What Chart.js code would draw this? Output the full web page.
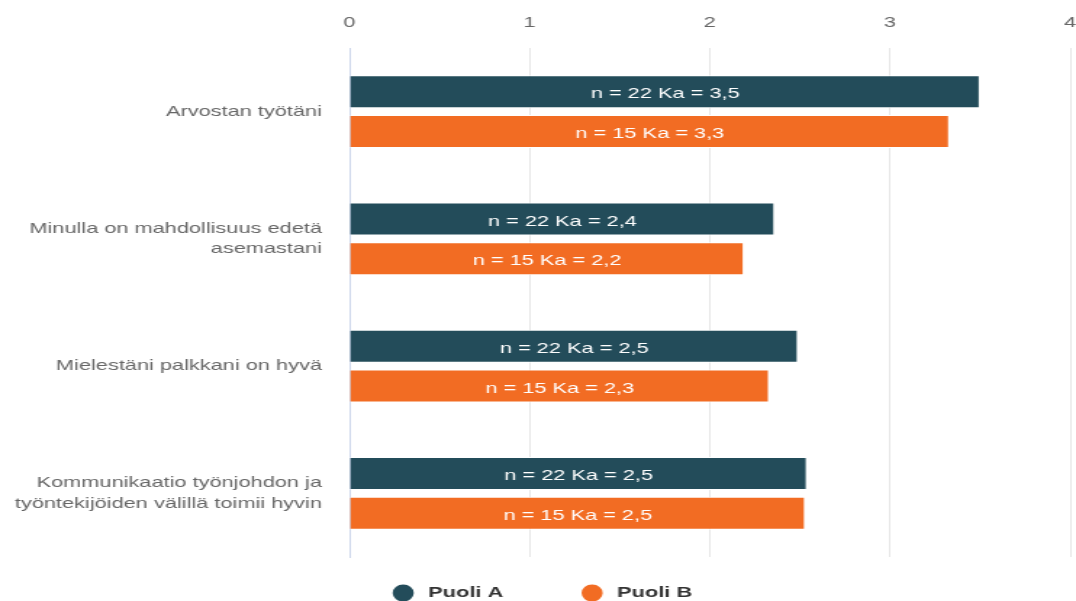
<!DOCTYPE html>
<html>
<head>
<meta charset="utf-8">
<script src="https://cdn.jsdelivr.net/npm/chart.js@4/dist/chart.umd.min.js"></script>
<style>
  html, body { margin: 0; padding: 0; background: #ffffff; }
</style>
</head>
<body>
<!-- chart is drawn narrower and stretched sideways to the full page width -->
<canvas id="chart" width="742" height="601" style="display:block;width:1076px;height:601px"></canvas>
<script>
// survey statements (multi-line labels as arrays)
const CATEGORIES = [
    ['Arvostan työtäni'],
    ['Minulla on mahdollisuus edetä', 'asemastani'],
    ['Mielestäni palkkani on hyvä'],
    ['Kommunikaatio työnjohdon ja', 'työntekijöiden välillä toimii hyvin']
];
const SERIES_NAMES = ['Puoli A', 'Puoli B'];
const SERIES_N = [22, 15];
const PUOLI_A = [3.50, 2.36, 2.49, 2.54];
const PUOLI_B = [3.33, 2.19, 2.33, 2.53];
const X_TICKS = [0, 1, 2, 3, 4];

const COLORS = ['#234c5a', '#f26c23'];
const FONT = "'Liberation Sans', Arial, sans-serif";

// "n = 22 Ka = 3,5" written in the middle of every bar
const barLabels = {
    id: 'barLabels',
    afterDatasetsDraw(chart) {
        const ctx = chart.ctx;
        ctx.save();
        ctx.font = `15px ${FONT}`;
        ctx.fillStyle = '#ffffff';
        ctx.textAlign = 'center';
        ctx.textBaseline = 'middle';
        chart.data.datasets.forEach((ds, di) => {
            chart.getDatasetMeta(di).data.forEach((bar, i) => {
                const v = ds.data[i];
                const txt = `n = ${SERIES_N[di]} Ka = ${v.toFixed(1).replace('.', ',')}`;
                ctx.fillText(txt, (bar.x + bar.base) / 2, bar.y + 2.5);
            });
        });
        ctx.restore();
    }
};

// round markers + bold series names under the plot
const bottomLegend = {
    id: 'bottomLegend',
    afterDraw(chart) {
        const ctx = chart.ctx;
        const y = 593;
        const rx = 7.3, ry = 8.5, textGap = 10, itemGap = 54;
        ctx.save();
        ctx.font = `bold 15px ${FONT}`;
        const widths = SERIES_NAMES.map(s => ctx.measureText(s).width);
        let total = 0;
        widths.forEach((w, i) => { total += rx * 2 + textGap + w + (i ? itemGap : 0); });
        let x = (chart.width - total) / 2 + 3;
        SERIES_NAMES.forEach((name, i) => {
            ctx.fillStyle = COLORS[i];
            ctx.beginPath();
            ctx.ellipse(x + rx, y, rx, ry, 0, 0, Math.PI * 2);
            ctx.fill();
            ctx.fillStyle = '#333333';
            ctx.textAlign = 'left';
            ctx.textBaseline = 'middle';
            ctx.fillText(name, x + rx * 2 + textGap, y);
            x += rx * 2 + textGap + widths[i] + itemGap;
        });
        ctx.restore();
    }
};

new Chart(document.getElementById('chart'), {
    type: 'bar',
    data: {
        labels: CATEGORIES,
        datasets: [
            { label: SERIES_NAMES[0], data: PUOLI_A, backgroundColor: COLORS[0] },
            { label: SERIES_NAMES[1], data: PUOLI_B, backgroundColor: COLORS[1] }
        ]
    },
    options: {
        indexAxis: 'y',
        responsive: false,
        devicePixelRatio: 1,
        animation: false,
        layout: { padding: { top: 0, bottom: 44, left: 0, right: 0 } },
        datasets: {
            bar: {
                categoryPercentage: 0.625,
                barPercentage: 0.83,
                borderWidth: 1,
                borderColor: '#ffffff'
            }
        },
        scales: {
            x: {
                position: 'top',
                min: 0,
                max: 4,
                afterBuildTicks: scale => { scale.ticks = X_TICKS.map(v => ({ value: v })); },
                afterFit: scale => {
                    scale.height = 48;
                    // tick padding should not eat into the plot width
                    scale.paddingLeft = 0;
                    scale.paddingRight = 4;
                },
                grid: {
                    drawTicks: false,
                    color: c => (c.tick && c.tick.value === 0) ? 'rgba(0,0,0,0)' : '#e6e6e6'
                },
                border: { display: false },
                ticks: { padding: 16, color: '#666666', font: { family: FONT, size: 15 } }
            },
            y: {
                grid: { display: false, drawTicks: false },
                border: { display: true, color: '#ccd6eb', width: 1 },
                afterFit: scale => { scale.width = 241; },
                ticks: {
                    padding: 19,
                    color: '#666666',
                    font: { family: FONT, size: 15, lineHeight: 1.35 }
                }
            }
        },
        plugins: {
            legend: { display: false },
            tooltip: { enabled: false }
        }
    },
    plugins: [barLabels, bottomLegend]
});
</script>
</body>
</html>
